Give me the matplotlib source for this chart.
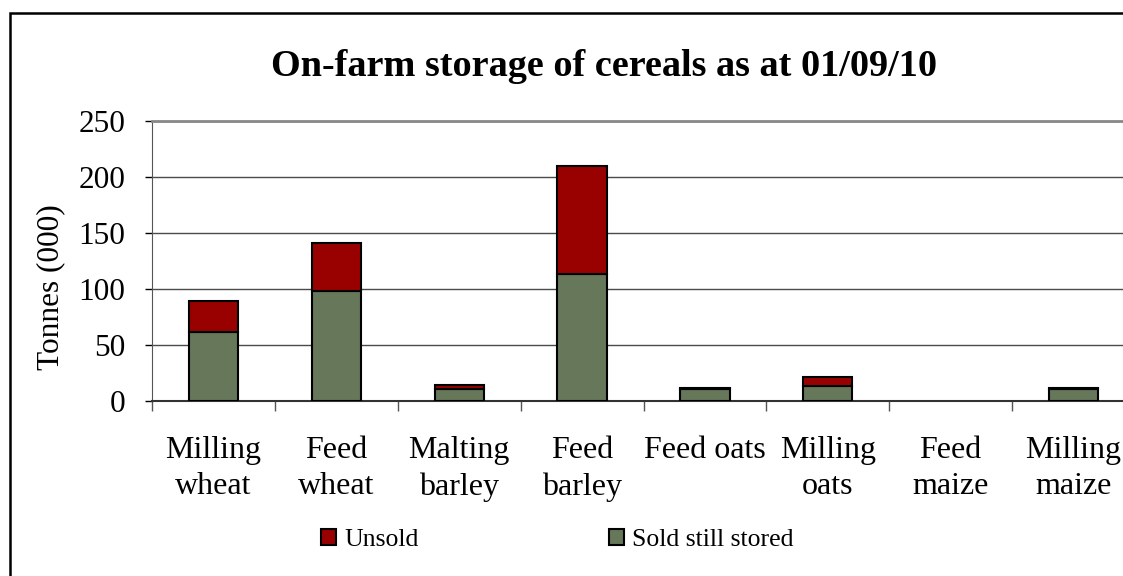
import numpy as np
import matplotlib
matplotlib.use('Agg')
import matplotlib.pyplot as plt
from matplotlib.patches import Patch, Rectangle

plt.rcParams['font.family'] = ['Liberation Serif', 'DejaVu Serif']

# dados (milhares de toneladas)
categories = ['Milling\nwheat', 'Feed\nwheat', 'Malting\nbarley', 'Feed\nbarley',
              'Feed oats', 'Milling\noats', 'Feed\nmaize', 'Milling\nmaize']
sold_still_stored = [62, 98, 11, 113, 11, 13, 0, 11]
unsold = [27, 43, 3, 97, 0.5, 8, 0, 0.5]
yticks = [0, 50, 100, 150, 200, 250]

red = '#990000'
green = '#66775A'

W, H = 1123, 576
fig = plt.figure(figsize=(W / 100, H / 100), dpi=100)

# moldura do gráfico (sai pela direita e por baixo, como no original)
fig.patches.append(Rectangle((10 / W, -0.2), 1.2, 1.2 - 13 / H,
                             transform=fig.transFigure, fill=False,
                             edgecolor='black', linewidth=1.8))

left, right = 152 / W, 1135 / W
bottom, top = 1 - 401 / H, 1 - 121 / H
ax = fig.add_axes([left, bottom, right - left, top - bottom])

x = np.arange(len(categories))
# barras de altura zero não são desenhadas (sem contorno no eixo)
vis = [i for i in x if sold_still_stored[i] + unsold[i] > 0]
ax.bar(x[vis], [sold_still_stored[i] for i in vis], width=0.4, color=green,
       edgecolor='black', linewidth=1.5, zorder=3)
ax.bar(x[vis], [unsold[i] for i in vis], width=0.4,
       bottom=[sold_still_stored[i] for i in vis], color=red, edgecolor='black',
       linewidth=1.5, zorder=3)

ax.set_xlim(-0.5, len(categories) - 0.5)
ax.set_ylim(0, 250)
ax.set_yticks(yticks)
ax.tick_params(axis='y', labelsize=22.5, length=5, width=1, pad=14, colors='black')
ax.yaxis.grid(True, color='#4a4a4a', linewidth=1, zorder=0)

# ticks entre categorias, rótulos no centro
ax.set_xticks(np.arange(len(categories) + 1) - 0.5)
ax.set_xticklabels([])
ax.set_xticks(x, minor=True)
ax.set_xticklabels(categories, minor=True, fontsize=23, linespacing=1.32)
ax.tick_params(axis='x', which='major', length=7, width=1, color='#555555')
ax.tick_params(axis='x', which='minor', length=0, pad=25.5)

ax.spines['top'].set_color('#888888')
ax.spines['top'].set_linewidth(2)
ax.spines['right'].set_visible(False)
ax.spines['left'].set_color('#555555')
ax.spines['bottom'].set_color('#333333')
ax.spines['bottom'].set_linewidth(1.5)

fig.text(51 / W, 1 - 287 / H, 'Tonnes (000)', rotation=90, ha='center', va='center', fontsize=22.5)

fig.text(604 / W, 1 - 67 / H, 'On-farm storage of cereals as at 01/09/10',
         ha='center', va='center', fontsize=27.5, fontweight='bold')

handles = [Patch(facecolor=red, edgecolor='black', linewidth=1.5, label='Unsold'),
           Patch(facecolor=green, edgecolor='black', linewidth=1.5, label='Sold still stored')]
fig.legend(handles=handles, loc='center left', bbox_to_anchor=(321 / W, 1 - 540 / H),
           ncol=2, frameon=False, fontsize=18.5, handlelength=0.6, handleheight=0.6,
           handletextpad=0.3, columnspacing=7.4, borderpad=0, borderaxespad=0)

fig.savefig('out.png', dpi=100)
